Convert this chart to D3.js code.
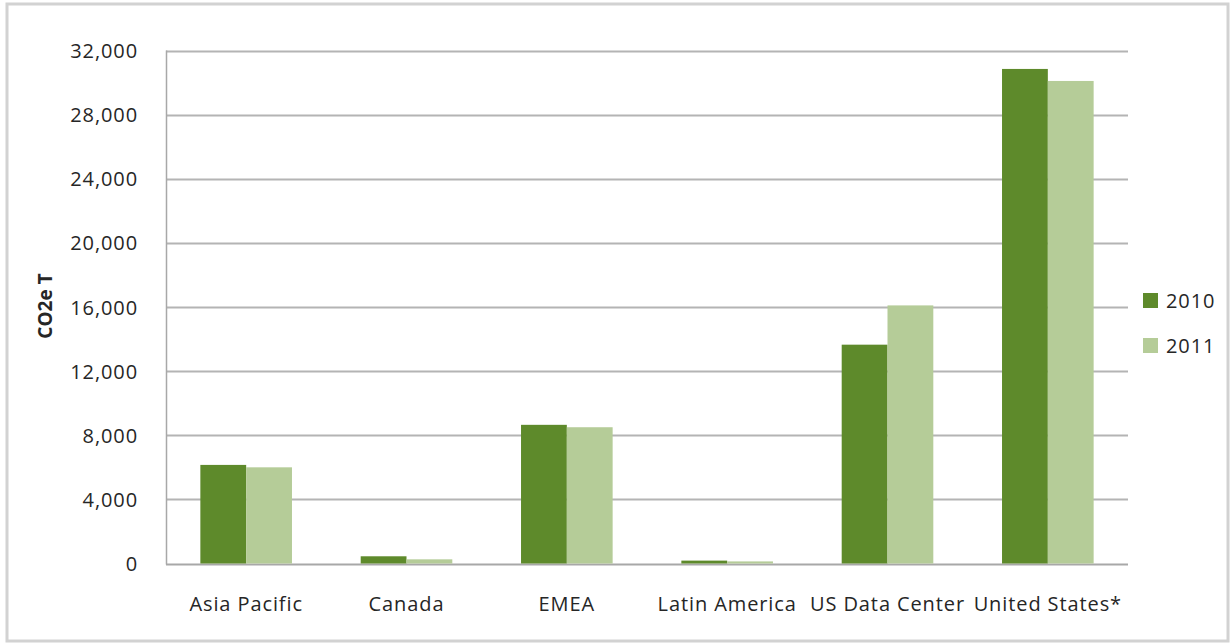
<!DOCTYPE html>
<html><head><meta charset="utf-8">
<script src="https://cdn.jsdelivr.net/npm/d3@7"></script>
<style>
html,body{margin:0;padding:0;background:#fff;}
svg{display:block;}
text{font-family:"Open Sans",sans-serif;fill:#262626;}
</style></head>
<body><svg id="c" width="1232" height="643"></svg>
<script>
const categories = ["Asia Pacific","Canada","EMEA","Latin America","US Data Center","United States*"];
const seriesNames = ["2010","2011"];
const values2010 = [6150, 450, 8650, 180, 13650, 30850];
const values2011 = [6000, 260, 8500, 130, 16100, 30100];
const yTicks = [0,4000,8000,12000,16000,20000,24000,28000,32000];
const colors = ["#5e8a2b","#b5cc98"];

const svg = d3.select("#c");
const W=1232,H=643;
svg.append("rect").attr("x",7).attr("y",4).attr("width",W-11).attr("height",H-6)
  .attr("fill","#fff").attr("stroke","#d2d2d2").attr("stroke-width",3);

const m={left:166,right:1128,top:50.5,bottom:563.5};
const band=d3.scaleBand().domain(categories).range([m.left,m.right]).padding(0);
const y=d3.scaleLinear().domain([0,32000]).range([m.bottom,m.top]);
const fmt=d3.format(",");
const FS="20px", LS="0.9px";

// grid
const g=svg.append("g");
g.selectAll("line.grid").data(yTicks).join("line")
  .attr("x1",m.left).attr("x2",m.right)
  .attr("y1",d=>Math.round(y(d))+0.5).attr("y2",d=>Math.round(y(d))+0.5)
  .attr("stroke",d=>d===0?"#a8a8a8":"#b4b4b4").attr("stroke-width",2);
g.append("line").attr("x1",m.left+0.5).attr("x2",m.left+0.5).attr("y1",m.top).attr("y2",m.bottom+1)
  .attr("stroke","#a8a8a8").attr("stroke-width",1.5);

// y axis labels
const yAxis=d3.axisLeft(y).tickValues(yTicks).tickFormat(fmt).tickSize(0).tickPadding(28);
const ya=svg.append("g").attr("transform",`translate(${m.left},0)`).call(yAxis);
ya.select(".domain").remove();
ya.selectAll("text").style("font-size",FS).style("letter-spacing",LS).attr("dy","0.35em");

// x axis labels
const xAxis=d3.axisBottom(band).tickSize(0).tickPadding(33);
const xa=svg.append("g").attr("transform",`translate(0,${m.bottom})`).call(xAxis);
xa.select(".domain").remove();
xa.selectAll("text").style("font-size",FS).style("letter-spacing",LS);

// bars
const bw=band.bandwidth()/3.5;
const data=categories.map((c,i)=>({c,v:[values2010[i],values2011[i]]}));
const groups=svg.append("g").selectAll("g").data(data).join("g")
  .attr("transform",d=>`translate(${band(d.c)+band.bandwidth()/2-bw},0)`);
groups.selectAll("rect").data(d=>d.v).join("rect")
  .attr("x",(d,i)=>i*bw).attr("width",bw)
  .attr("y",d=>y(d)).attr("height",d=>m.bottom-y(d))
  .attr("fill",(d,i)=>colors[i]);

// y title
svg.append("text").attr("transform",`translate(52,306) rotate(-90)`)
  .attr("text-anchor","middle").style("font-size","19px").style("font-weight","bold").text("CO2e T");

// legend
const lg=svg.append("g").selectAll("g").data(seriesNames).join("g")
  .attr("transform",(d,i)=>`translate(1143,${293+i*45})`);
lg.append("rect").attr("width",15).attr("height",15).attr("fill",(d,i)=>colors[i]);
lg.append("text").attr("x",23).attr("y",8).attr("dy","0.35em").style("font-size",FS).style("letter-spacing",LS).text(d=>d);
</script></body></html>
